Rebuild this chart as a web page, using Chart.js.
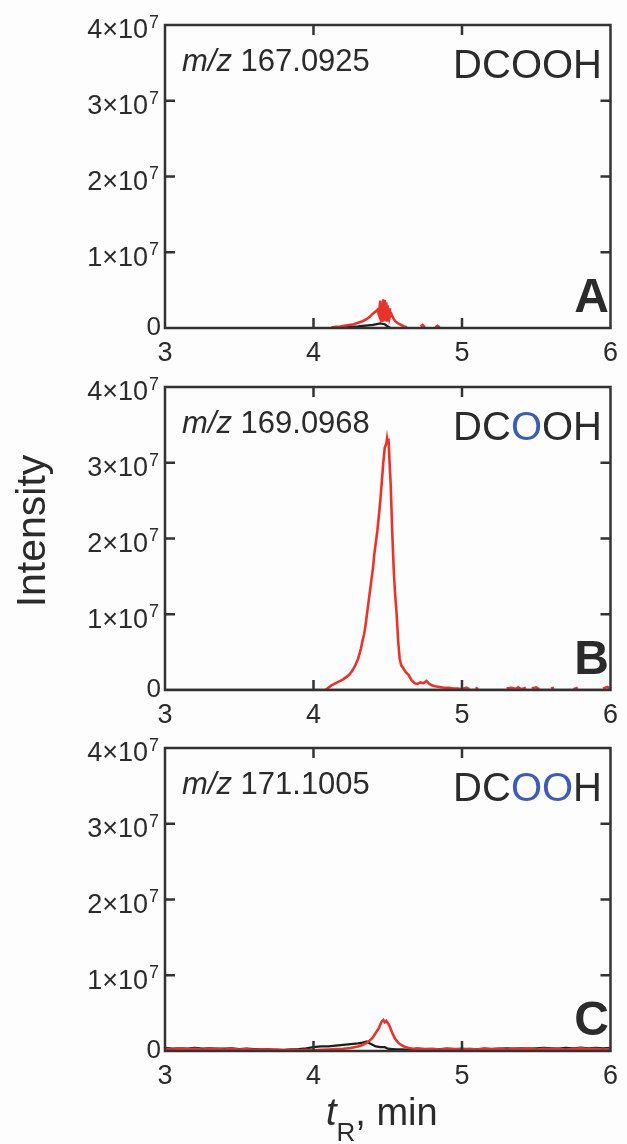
<!DOCTYPE html>
<html>
<head>
<meta charset="utf-8">
<script src="https://cdn.jsdelivr.net/npm/chart.js@4.4.1/dist/chart.umd.min.js"></script>
<style>
    html, body { margin: 0; padding: 0; background: #fdfdfd; }
    #wrap { position: relative; width: 627px; height: 1144px; }
    canvas { position: absolute; left: 0; }
</style>
</head>
<body>
<div id="wrap">
    <canvas id="panelA" width="627" height="362" style="top:0px"></canvas>
    <canvas id="panelB" width="627" height="362" style="top:362px"></canvas>
    <canvas id="panelC" width="627" height="421" style="top:723px"></canvas>
</div>
<script>
"use strict";

// axis ticks
const xTicks = [3, 4, 5, 6];
const yTicks = [0, 1e7, 2e7, 3e7, 4e7];
const yTickLabels = ['0', '1×10', '2×10', '3×10', '4×10'];
const yTickExp = '7';

// panel captions
const panelLetters = ['A', 'B', 'C'];
const panelMz = ['167.0925', '169.0968', '171.1005'];
// which letters of DCOOH are drawn blue (labelled oxygen)
const panelBlue = [[], [2], [2, 3]];

// A: m/z 167.0925
const timeA_red = [4.12, 4.15, 4.18, 4.21, 4.24, 4.27, 4.30, 4.33, 4.36, 4.38, 4.40, 4.42, 4.43, 4.44,
    4.45, 4.455, 4.46, 4.465, 4.47, 4.475, 4.48, 4.485, 4.49, 4.495, 4.50, 4.505, 4.51, 4.515, 4.52,
    4.53, 4.54, 4.55, 4.57, 4.59, 4.61, 4.63, 4.65, 4.72, 4.735, 4.75, 4.78, 4.82, 4.835, 4.85];
const intensityA_red = [5e4, 1.5e5, 2e5, 3e5, 4e5, 5e5, 7e5, 9e5, 1.2e6, 1.5e6, 1.9e6, 2.2e6, 2.4e6, 1.8e6,
    3.6e6, 1.0e6, 3.2e6, 0.8e6, 3.8e6, 1.2e6, 3.7e6, 0.9e6, 3.4e6, 1.0e6, 3.0e6, 1.5e6, 2.6e6, 1.6e6, 2.0e6,
    1.6e6, 1.2e6, 0.9e6, 0.6e6, 0.4e6, 0.2e6, 0.1e6, null, 2e5, 4e5, 1e5, null, 1e5, 3e5, 1e5];
const timeA_black = [4.15, 4.20, 4.25, 4.30, 4.35, 4.40, 4.45, 4.48, 4.50, 4.52];
const intensityA_black = [0, 1e5, 1.5e5, 2e5, 3e5, 4e5, 6e5, 5e5, 2e5, 0];

// B: m/z 169.0968
const timeB_red = [4.08, 4.10, 4.12, 4.14, 4.16, 4.18, 4.20, 4.22, 4.24, 4.26, 4.28, 4.30, 4.32, 4.33,
    4.34, 4.35, 4.36, 4.37, 4.38, 4.39, 4.40, 4.41, 4.42, 4.43, 4.44, 4.45, 4.46, 4.47, 4.48, 4.49,
    4.495, 4.50, 4.505, 4.51, 4.52, 4.53, 4.54, 4.55, 4.56, 4.57, 4.58, 4.59, 4.60, 4.62, 4.64, 4.66,
    4.68, 4.70, 4.72, 4.74, 4.76, 4.78, 4.80, 4.82, 4.85, 4.88, 4.91, 4.94, 4.97, 5.00, 5.03, 5.05,
    5.07, 5.09, 5.11, 5.15, 5.30, 5.33, 5.36, 5.38, 5.40, 5.43, 5.45, 5.47, 5.50, 5.52, 5.56, 5.60,
    5.62, 5.68, 5.75, 5.78, 5.85, 5.95, 5.98, 6.00];
const intensityB_red = [0, 3e5, 6e5, 8e5, 1.0e6, 1.2e6, 1.4e6, 1.7e6, 2.0e6, 2.5e6, 3.2e6, 4.1e6, 5.5e6, 6.5e6,
    7.3e6, 8.5e6, 1.0e7, 1.15e7, 1.3e7, 1.45e7, 1.6e7, 1.8e7, 1.95e7, 2.1e7, 2.3e7, 2.5e7, 2.75e7, 3.0e7, 3.2e7, 3.25e7,
    3.32e7, 3.25e7, 3.32e7, 3.1e7, 2.7e7, 2.1e7, 1.6e7, 1.25e7, 1.0e7, 6.5e6, 4.2e6, 3.3e6, 3.0e6, 2.4e6, 2.0e6, 1.3e6,
    9e5, 8e5, 1.0e6, 9e5, 1.2e6, 8e5, 6e5, 5e5, 4e5, 3e5, 3e5, 2e5, 2e5, 1e5, 3e5, 1e5,
    null, 3e5, 1e5, null, 2e5, 3e5, 1.5e5, 3.5e5, 1e5, 3e5, null, 2e5, 3.5e5, 1e5, null, 2e5,
    3e5, null, 1e5, 3e5, null, 2e5, 4e5, 1e5];
const timeB_black = [3.0, 6.0];
const intensityB_black = [0, 0];

// C: m/z 171.1005
const timeC_red = [3.00, 3.05, 3.10, 3.15, 3.20, 3.25, 3.30, 3.35, 3.40, 3.45, 3.50, 3.55, 3.60, 3.65,
    3.70, 3.75, 3.80, 3.85, 3.90, 3.95, 4.00, 4.05, 4.10, 4.15, 4.20, 4.25, 4.30, 4.33, 4.36, 4.38,
    4.40, 4.42, 4.44, 4.45, 4.46, 4.47, 4.48, 4.49, 4.50, 4.51, 4.52, 4.53, 4.54, 4.55, 4.57, 4.59,
    4.61, 4.64, 4.67, 4.70, 4.75, 4.80, 4.85, 4.90, 4.95, 5.00, 5.05, 5.10, 5.15, 5.20, 5.25, 5.30,
    5.35, 5.40, 5.45, 5.50, 5.55, 5.60, 5.65, 5.70, 5.75, 5.80, 5.85, 5.90, 5.95, 6.00];
const intensityC_red = [3e5, 2e5, 3.5e5, 2.5e5, 3e5, 2e5, 3e5, 2.5e5, 2e5, 3e5, 2e5, 2.5e5, 1.5e5, 2e5,
    1.5e5, 2e5, 1e5, 1.5e5, 1e5, 1.5e5, 1e5, 1.5e5, 2e5, 2.5e5, 3e5, 4e5, 6e5, 8e5, 1.1e6, 1.4e6,
    1.8e6, 2.4e6, 3.0e6, 3.5e6, 3.9e6, 4.1e6, 3.8e6, 4.0e6, 3.7e6, 3.4e6, 2.9e6, 2.4e6, 2.0e6, 1.6e6, 1.1e6, 8e5,
    6e5, 4e5, 3e5, 3.5e5, 2.5e5, 3e5, 2e5, 3e5, 2.5e5, 2e5, 3e5, 2e5, 3.5e5, 2.5e5, 3e5, 2e5,
    3e5, 2.5e5, 3.5e5, 2e5, 3e5, 2.5e5, 3e5, 2e5, 3e5, 3.5e5, 2.5e5, 3e5, 2e5, 3e5];
const timeC_black = [3.00, 3.05, 3.10, 3.15, 3.20, 3.25, 3.30, 3.35, 3.40, 3.45, 3.50, 3.55, 3.60, 3.65,
    3.70, 3.75, 3.80, 3.85, 3.90, 3.95, 4.00, 4.05, 4.10, 4.15, 4.20, 4.25, 4.30, 4.33, 4.36, 4.38,
    4.40, 4.42, 4.45, 4.48, 4.50, 4.53, 4.56, 4.60, 4.65, 4.70, 4.75, 4.80, 4.85, 4.90, 4.95, 5.00,
    5.05, 5.10, 5.15, 5.20, 5.25, 5.30, 5.35, 5.40, 5.45, 5.50, 5.55, 5.60, 5.65, 5.70, 5.75, 5.80,
    5.85, 5.90, 5.95, 6.00];
const intensityC_black = [4e5, 3e5, 3.5e5, 3e5, 4e5, 3e5, 3.5e5, 3e5, 3e5, 3.5e5, 2.5e5, 3e5, 2.5e5, 2e5,
    2e5, 1.5e5, 1.5e5, 2e5, 2.5e5, 3.5e5, 5e5, 6e5, 6e5, 7e5, 8e5, 9e5, 1.0e6, 1.1e6, 1.25e6, 1.0e6,
    8e5, 6e5, 5e5, 5e5, 3e5, 2.5e5, 2e5, 2e5, 1.5e5, 2e5, 2.5e5, 2e5, 2.5e5, 3e5, 2.5e5, 3e5,
    2e5, 2.5e5, 2e5, 2.5e5, 3e5, 3.5e5, 3e5, 3.5e5, 3e5, 3.5e5, 4e5, 3.5e5, 3e5, 4e5, 3.5e5, 4.5e5,
    3.5e5, 4e5, 3.5e5, 4e5];

const RED = '#e8332b';
const BLACK = '#1e1e1e';
const BLUE = '#3d5cb8';
const INK = '#2b2b2b';
const FONT = '"Liberation Sans", Arial, sans-serif';

const toPoints = (t, v) => t.map((x, i) => ({x: x, y: v[i]}));

// frame, inward ticks, y labels and captions
const decorPlugin = {
    id: 'decor',
    afterDraw(chart) {
        const ctx = chart.ctx;
        const area = chart.chartArea;
        const xs = chart.scales.x;
        const ys = chart.scales.y;
        const idx = chart.options.plugins.decor.panel;
        ctx.save();
        ctx.strokeStyle = '#333';
        ctx.lineWidth = 2.5;
        ctx.strokeRect(area.left, area.top, area.right - area.left, area.bottom - area.top);
        ctx.beginPath();
        xTicks.slice(1, -1).forEach(v => {
            const px = xs.getPixelForValue(v);
            ctx.moveTo(px, area.bottom);
            ctx.lineTo(px, area.bottom - 10);
            ctx.moveTo(px, area.top);
            ctx.lineTo(px, area.top + 10);
        });
        yTicks.slice(1, -1).forEach(v => {
            const py = ys.getPixelForValue(v);
            ctx.moveTo(area.left, py);
            ctx.lineTo(area.left + 10, py);
            ctx.moveTo(area.right, py);
            ctx.lineTo(area.right - 10, py);
        });
        ctx.stroke();

        // y tick labels with superscript exponent
        ctx.fillStyle = INK;
        ctx.textBaseline = 'middle';
        yTicks.forEach((v, i) => {
            const py = ys.getPixelForValue(v);
            if (i === 0) {
                ctx.font = '26px ' + FONT;
                ctx.textAlign = 'right';
                ctx.fillText(yTickLabels[i], 161, py);
                return;
            }
            ctx.font = '27px ' + FONT;
            ctx.textAlign = 'right';
            ctx.fillText(yTickLabels[i], 148, py + 6);
            ctx.font = '18px ' + FONT;
            ctx.textAlign = 'left';
            ctx.fillText(yTickExp, 149, py - 2);
        });

        // m/z caption
        ctx.textBaseline = 'alphabetic';
        ctx.textAlign = 'left';
        ctx.font = 'italic 31px ' + FONT;
        ctx.fillText('m/z', 182, area.top + 46);
        const mzw = ctx.measureText('m/z ').width;
        ctx.font = '31px ' + FONT;
        ctx.fillText(panelMz[idx], 182 + mzw, area.top + 46);

        // formula, right aligned
        ctx.font = '40px ' + FONT;
        const formula = 'DCOOH';
        let fx = 602 - ctx.measureText(formula).width;
        for (let k = 0; k < formula.length; k++) {
            ctx.fillStyle = panelBlue[idx].includes(k) ? BLUE : INK;
            ctx.fillText(formula[k], fx, area.top + 53);
            fx += ctx.measureText(formula[k]).width;
        }

        // panel letter
        ctx.fillStyle = INK;
        ctx.font = 'bold 48px ' + FONT;
        ctx.textAlign = 'right';
        ctx.fillText(panelLetters[idx], 609, area.top + 287);

        if (idx === 1) {
            ctx.save();
            ctx.translate(45, 169);
            ctx.rotate(-Math.PI / 2);
            ctx.textAlign = 'center';
            ctx.font = '41px ' + FONT;
            ctx.fillText('Intensity', 0, 0);
            ctx.restore();
        }
        if (idx === 2) {
            ctx.textAlign = 'left';
            let tx = 326;
            const by = 402;
            ctx.font = 'italic 38px ' + FONT;
            ctx.fillText('t', tx, by);
            tx += ctx.measureText('t').width;
            ctx.font = '26px ' + FONT;
            ctx.fillText('R', tx, by + 16);
            tx += ctx.measureText('R').width;
            ctx.font = '38px ' + FONT;
            ctx.fillText(', min', tx, by);
        }
        ctx.restore();
    }
};

const buildPanel = (canvasId, idx, red, black) => {
    const canvas = document.getElementById(canvasId);
    new Chart(canvas, {
        type: 'line',
        data: {
            datasets: [
                {
                    data: red,
                    borderColor: RED,
                    borderWidth: 2.6,
                    pointRadius: 0,
                    tension: 0,
                    spanGaps: false
                },
                {
                    data: black,
                    borderColor: BLACK,
                    borderWidth: 2.3,
                    pointRadius: 0,
                    tension: 0,
                    spanGaps: false
                }
            ]
        },
        options: {
            responsive: false,
            animation: false,
            devicePixelRatio: 1,
            layout: {
                padding: {top: 25, right: 8, left: 0, bottom: 0}
            },
            plugins: {
                legend: {display: false},
                tooltip: {enabled: false},
                decor: {panel: idx}
            },
            scales: {
                x: {
                    type: 'linear',
                    min: 3,
                    max: 6,
                    afterBuildTicks: (scale) => {
                        scale.ticks = xTicks.map(v => ({value: v}));
                    },
                    afterFit: (scale) => {
                        scale.height = canvas.height - 328;
                    },
                    grid: {display: false, drawTicks: false},
                    border: {display: false},
                    ticks: {
                        color: INK,
                        padding: 9,
                        maxRotation: 0,
                        autoSkip: false,
                        font: {family: FONT, size: 27}
                    }
                },
                y: {
                    type: 'linear',
                    min: 0,
                    max: 4e7,
                    afterBuildTicks: (scale) => {
                        scale.ticks = yTicks.map(v => ({value: v}));
                    },
                    afterFit: (scale) => {
                        scale.width = 165;
                    },
                    grid: {display: false, drawTicks: false},
                    border: {display: false},
                    ticks: {display: false}
                }
            }
        },
        plugins: [decorPlugin]
    });
};

buildPanel('panelA', 0, toPoints(timeA_red, intensityA_red), toPoints(timeA_black, intensityA_black));
buildPanel('panelB', 1, toPoints(timeB_red, intensityB_red), toPoints(timeB_black, intensityB_black));
buildPanel('panelC', 2, toPoints(timeC_red, intensityC_red), toPoints(timeC_black, intensityC_black));
</script>
</body>
</html>
